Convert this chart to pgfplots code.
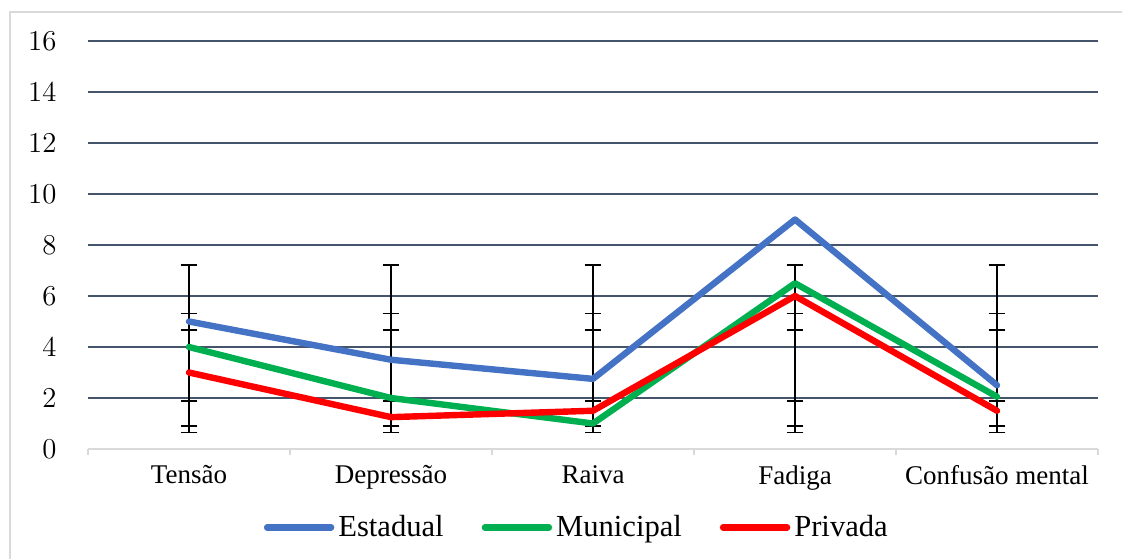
\documentclass[border=0pt]{standalone}
\usepackage{pgfplots}
\pgfplotsset{compat=1.18}
\usepackage{fontspec}
\setmainfont{Liberation Serif}
\definecolor{cblue}{HTML}{4472C4}
\definecolor{cgreen}{HTML}{00B050}
\definecolor{cred}{HTML}{FF0000}
\definecolor{cgrid}{HTML}{44546A}
\definecolor{caxis}{HTML}{D9D9D9}
\begin{document}
\begin{tikzpicture}
\useasboundingbox (-44pt,-54.5pt) rectangle (517pt,224.5pt);
\draw[caxis, line width=1pt] (-39pt,-70pt) -- (-39pt,218.5pt) -- (530pt,218.5pt);
\begin{axis}[
  scale only axis,
  width=505pt, height=204pt,
  xmin=-0.5, xmax=4.5,
  ymin=0, ymax=16,
  axis x line*=bottom,
  axis y line*=left,
  y axis line style={draw=none},
  x axis line style={caxis, line width=1pt},
  xtick={0,1,2,3,4},
  xticklabels={Tensão,Depressão,Raiva,Fadiga,Confusão mental},
  minor xtick={-0.5,0.5,1.5,2.5,3.5,4.5},
  xtick style={draw=none},
  minor x tick style={draw=caxis, line width=1pt},
  minor tick length=3pt,
  tick align=outside,
  ytick={2,4,...,16},
  extra y ticks={0},
  extra y tick style={grid=none},
  ytick style={draw=none},
  ymajorgrids,
  major grid style={cgrid, line width=1pt},
  tick label style={font=\fontsize{13.5}{15}\selectfont},
  yticklabel style={xshift=-8pt},
  xticklabel style={yshift=-0.5pt},
  legend style={at={(0.485,-0.192)}, anchor=center, draw=none, fill=none,
    font=\fontsize{15.3}{17}\selectfont, legend columns=3,
    /tikz/every even column/.append style={column sep=17pt}},
  legend image code/.code={\draw[#1, line cap=round] (0pt,0pt) -- (32pt,0pt);},
  every axis plot/.append style={line join=round, line cap=round},
  ebar/.style={forget plot, draw=none, mark=none,
    error bars/.cd, y dir=both, y explicit,
    error bar style={draw=black, line width=0.75pt, line cap=butt},
    error mark options={rotate=90, draw=black, line width=0.75pt, mark size=4.2pt}},
]
% error bars (hidden centre points)
\addplot[ebar]
  coordinates {(0,3.93) +- (0,3.29) (1,3.93) +- (0,3.29) (2,3.93) +- (0,3.29) (3,3.93) +- (0,3.29) (4,3.93) +- (0,3.29)};
\addplot[ebar]
  coordinates {(0,3.115) +- (0,2.205) (1,3.115) +- (0,2.205) (2,3.115) +- (0,2.205) (3,3.115) +- (0,2.205) (4,3.115) +- (0,2.205)};
\addplot[ebar]
  coordinates {(0,3.28) +- (0,1.39) (1,3.28) +- (0,1.39) (2,3.28) +- (0,1.39) (3,3.28) +- (0,1.39) (4,3.28) +- (0,1.39)};
\addplot[cblue, line width=3.2pt, mark=none] coordinates {(0,5.0) (1,3.5) (2,2.75) (3,9.0) (4,2.5)};
\addlegendentry{Estadual}
\addplot[cgreen, line width=3.2pt, mark=none] coordinates {(0,4.0) (1,2.0) (2,1.0) (3,6.5) (4,2.05)};
\addlegendentry{Municipal}
\addplot[cred, line width=3.2pt, mark=none] coordinates {(0,3.0) (1,1.25) (2,1.5) (3,6.0) (4,1.5)};
\addlegendentry{Privada}
\end{axis}
\end{tikzpicture}
\end{document}
